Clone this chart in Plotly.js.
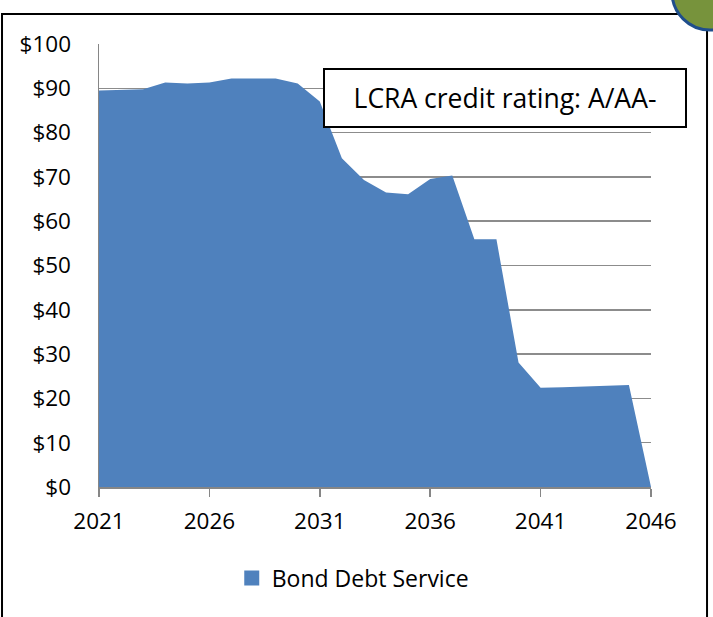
<!DOCTYPE html>
<html>
<head>
<meta charset="utf-8">
<script src="https://cdn.plot.ly/plotly-3.0.1.min.js"></script>
<style>
html,body{margin:0;padding:0;background:#fff;}
#chart{width:713px;height:617px;}
</style>
</head>
<body>
<div id="chart"></div>
<script>
const years = [2021,2022,2023,2024,2025,2026,2027,2028,2029,2030,2031,2032,2033,2034,2035,2036,2037,2038,2039,2040,2041,2042,2043,2044,2045,2046];
const debtService = [89.5,89.6,89.8,91.3,91.1,91.3,92.2,92.2,92.2,91.1,87.0,74.2,69.3,66.5,66.1,69.5,70.3,55.9,55.9,28.1,22.4,22.5,22.7,22.8,23.0,0];
const seriesName = 'Bond Debt Service';
const xTicks = [2021,2026,2031,2036,2041,2046];
const yTicks = [0,10,20,30,40,50,60,70,80,90,100];
const yTickLabels = ['$0','$10','$20','$30','$40','$50','$60','$70','$80','$90','$100'];
const noteText = 'LCRA credit rating: A/AA-';

const FONT = '"Open Sans", sans-serif';
const AREA = '#4f81bd';
const area = {
  x: years, y: debtService, name: seriesName,
  type: 'scatter', mode: 'lines', fill: 'tozeroy',
  fillcolor: AREA, line: {width: 0, color: AREA},
  showlegend: false, hoverinfo: 'x+y'
};
// legend entry (square swatch like the original)
const legendSwatch = {
  x: [null], y: [null], name: seriesName, type: 'bar',
  marker: {color: AREA, line: {color: AREA, width: 3}}, showlegend: true
};
const layout = {
  width: 713, height: 617,
  margin: {l: 99, r: 62, t: 44, b: 130},
  paper_bgcolor: '#ffffff', plot_bgcolor: '#ffffff',
  font: {family: FONT, size: 22, color: '#000'},
  xaxis: {
    range: [2021, 2046], tickvals: xTicks, ticktext: xTicks.map(String),
    showgrid: false, zeroline: false, showline: true, linecolor: '#868686', linewidth: 1.5,
    ticks: 'outside', ticklen: 8, tickcolor: '#868686', tickwidth: 1.5,
    ticklabelstandoff: 5,
    tickfont: {family: FONT, size: 22.5, color: '#000'}
  },
  yaxis: {
    range: [0, 100], tickvals: yTicks, ticktext: yTickLabels,
    showgrid: true, gridcolor: '#8c8c8c', gridwidth: 1.5,
    zeroline: false, showline: true, linecolor: '#868686', linewidth: 1.5,
    ticks: '', ticklabelstandoff: 22,
    tickfont: {family: FONT, size: 22.5, color: '#000'}
  },
  showlegend: true,
  legend: {
    orientation: 'h', x: 0.2405, xanchor: 'left', y: -0.2054, yanchor: 'middle',
    font: {family: FONT, size: 23, color: '#000'}
  },
  annotations: [{
    xref: 'paper', yref: 'paper', x: 0.7364, y: 0.879,
    xanchor: 'center', yanchor: 'middle', showarrow: false,
    text: noteText, font: {family: FONT, size: 26.5, color: '#000'},
    bgcolor: '#ffffff', bordercolor: '#000000', borderwidth: 2, borderpad: 0,
    width: 360, height: 56
  }],
  shapes: [
    {type: 'rect', xref: 'paper', yref: 'paper', x0: -0.1757, x1: 1.1015, y0: -0.31, y1: 1.0677,
     line: {color: '#000', width: 2}, layer: 'below'},
    {type: 'circle', xref: 'paper', yref: 'paper', x0: 1.038, x1: 1.1757, y0: 1.0316, y1: 1.2032,
     fillcolor: '#77933c', line: {color: '#1f4e8c', width: 3}, layer: 'above'}
  ]
};
Plotly.newPlot('chart', [area, legendSwatch], layout, {displayModeBar: false, staticPlot: true});
</script>
</body>
</html>
